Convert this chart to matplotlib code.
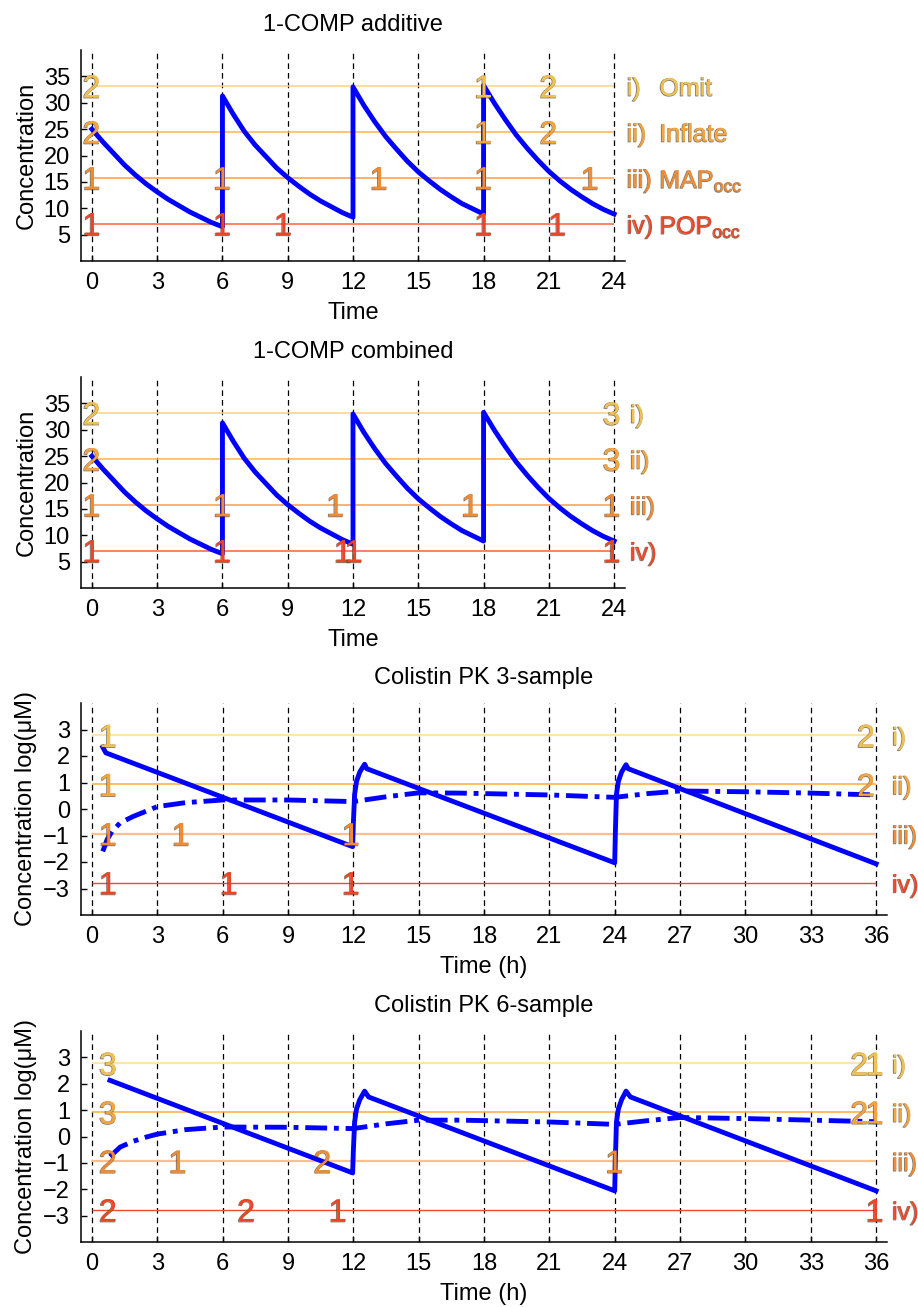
import matplotlib
matplotlib.use('Agg')
import matplotlib.pyplot as plt
import matplotlib.patheffects as pe

plt.rcParams['font.family'] = ['Liberation Sans', 'DejaVu Sans']
plt.rcParams['mathtext.fontset'] = 'custom'
plt.rcParams['mathtext.rm'] = 'Liberation Sans'
plt.rcParams['mathtext.it'] = 'Liberation Sans:italic'
plt.rcParams['mathtext.bf'] = 'Liberation Sans:bold'

# ---------------- data ----------------
# 1-compartment simulated concentration (half-hourly readings, duplicated time at doses)
comp_time = [0, 0.5, 1, 1.5, 2, 2.5, 3, 3.5, 4, 4.5, 5, 5.5, 6,
             6, 6.5, 7, 7.5, 8, 8.5, 9, 9.5, 10, 10.5, 11, 11.5, 12,
             12, 12.5, 13, 13.5, 14, 14.5, 15, 15.5, 16, 16.5, 17, 17.5, 18,
             18, 18.5, 19, 19.5, 20, 20.5, 21, 21.5, 22, 22.5, 23, 23.5, 24]
comp_conc = [25.0, 22.6, 20.4, 18.2, 16.3, 14.6, 13.1, 11.7, 10.5, 9.3, 8.3, 7.3, 6.5,
             31.3, 27.8, 24.6, 22.0, 19.8, 17.6, 15.8, 14.2, 12.7, 11.4, 10.3, 9.2, 8.3,
             33.0, 29.5, 26.4, 23.6, 21.2, 18.9, 16.9, 15.2, 13.6, 12.2, 10.9, 9.9, 8.9,
             33.3, 29.9, 26.8, 23.9, 21.4, 19.1, 17.0, 15.2, 13.6, 12.2, 10.9, 9.8, 8.9]

comp_levels = [33.2, 24.5, 15.8, 7.1]          # i) .. iv) reference lines
col_levels = [2.78, 0.93, -0.93, -2.78]

# Colistin 3-sample: solid curve
col3_time = [0.5, 0.64, 11.97, 12.0, 12.06, 12.15, 12.3, 12.52, 12.62, 24.0,
             24.03, 24.08, 24.17, 24.32, 24.52, 24.62, 36.0]
col3_conc = [2.33, 2.12, -1.42, -0.6, 0.55, 1.05, 1.4, 1.69, 1.52, -2.03,
             -0.9, 0.55, 1.05, 1.4, 1.67, 1.52, -2.07]
# Colistin 3-sample: dash-dot curve
col3_dd_time = [0.5, 0.7, 0.92, 1.3, 1.9, 2.5, 3.0, 4.3, 6.0, 9.0, 12.0,
                13.5, 15.0, 16.9, 21.0, 24.0, 25.5, 27.0, 30.0, 33.0, 36.0]
col3_dd_conc = [-1.6, -1.15, -0.85, -0.52, -0.28, -0.08, 0.09, 0.24, 0.34, 0.34,
                0.28, 0.46, 0.61, 0.6, 0.53, 0.44, 0.58, 0.68, 0.65, 0.6, 0.53]

# Colistin 6-sample
col6_time = [0.83, 11.97, 12.0, 12.06, 12.15, 12.3, 12.52, 12.7, 24.0,
             24.03, 24.08, 24.17, 24.32, 24.52, 24.72, 36.0]
col6_conc = [2.13, -1.38, -0.6, 0.55, 1.05, 1.4, 1.72, 1.5, -2.06,
             -0.9, 0.55, 1.05, 1.4, 1.72, 1.5, -2.06]
col6_dd_time = [0.83, 1.3, 1.9, 2.5, 3.0, 4.3, 6.0, 9.0, 12.0,
                13.5, 15.0, 16.9, 21.0, 24.0, 25.5, 27.0, 30.0, 33.0, 36.0]
col6_dd_conc = [-0.76, -0.4, -0.18, -0.02, 0.09, 0.26, 0.36, 0.35, 0.3,
                0.48, 0.62, 0.62, 0.55, 0.46, 0.6, 0.72, 0.68, 0.62, 0.56]

roman = ['i)', 'ii)', 'iii)', 'iv)']
method_names = ['Omit', 'Inflate', r'MAP$_{\mathrm{occ}}$', r'POP$_{\mathrm{occ}}$']

# count labels: (x position, level index, text)
labels_add = [(0, 0, '2'), (18, 0, '1'), (21, 0, '2'),
              (0, 1, '2'), (18, 1, '1'), (21, 1, '2'),
              (0, 2, '1'), (6, 2, '1'), (13.2, 2, '1'), (18, 2, '1'), (22.9, 2, '1'),
              (0, 3, '1'), (6, 3, '1'), (8.8, 3, '1'), (18, 3, '1'), (21.4, 3, '1')]
labels_comb = [(0, 0, '2'), (23.9, 0, '3'),
               (0, 1, '2'), (23.9, 1, '3'),
               (0, 2, '1'), (6, 2, '1'), (11.2, 2, '1'), (17.4, 2, '1'), (23.9, 2, '1'),
               (0, 3, '1'), (6, 3, '1'), (11.55, 3, '1'), (12.05, 3, '1'), (23.9, 3, '1')]
labels_col3 = [(0.75, 0, '1'), (35.55, 0, '2'),
               (0.75, 1, '1'), (35.55, 1, '2'),
               (0.75, 2, '1'), (4.1, 2, '1'), (11.9, 2, '1'),
               (0.75, 3, '1'), (6.3, 3, '1'), (11.9, 3, '1')]
labels_col6 = [(0.75, 0, '3'), (35.25, 0, '2'), (35.95, 0, '1'),
               (0.75, 1, '3'), (35.25, 1, '2'), (35.95, 1, '1'),
               (0.75, 2, '2'), (3.95, 2, '1'), (10.6, 2, '2'), (24.0, 2, '1'),
               (0.75, 3, '2'), (7.1, 3, '2'), (11.3, 3, '1'), (35.95, 3, '1')]

# ---------------- styles ----------------
text_cols = ['#F2C04E', '#F5A33A', '#F28A30', '#EE4424']
line_cols_comp = ['#FFD27A', '#FFB44C', '#FF9C48', '#FF5E40']
line_cols_col = ['#FFE6AC', '#FFAC38', '#FFBE8E', '#F2482E']
line_w_col = [1.6, 1.1, 1.6, 1.0]
BLUE = '#0000FF'
FS = 17
NUM_FS = 23
LEG_FS = 18

W, H = 918, 1307
fig = plt.figure(figsize=(W / 100, H / 100), dpi=100)


def make_ax(left, right, top, bottom):
    return fig.add_axes([left / W, 1 - bottom / H, (right - left) / W, (bottom - top) / H])


def outline():
    return [pe.Stroke(linewidth=0.8, foreground='#3a3020', alpha=0.55, offset=(-0.5, -0.4)),
            pe.Normal()]


def style_axes(ax, xmax, ylim, yticks, title, xlabel, ylabel):
    ax.set_xlim(-0.5, xmax + 0.5)
    ax.set_ylim(*ylim)
    xt = list(range(0, xmax + 1, 3))
    ax.set_xticks(xt)
    ax.set_yticks(yticks)
    for x in xt:
        ax.axvline(x, color='black', lw=0.9, linestyle=(0, (4.5, 3.2)), zorder=1)
    for s in ['top', 'right']:
        ax.spines[s].set_visible(False)
    for s in ['left', 'bottom']:
        ax.spines[s].set_linewidth(1.1)
    ax.tick_params(direction='in', length=4, width=1, labelsize=FS, pad=8)
    ax.set_title(title, fontsize=FS, pad=14)
    ax.set_xlabel(xlabel, fontsize=FS, labelpad=6)
    ax.set_ylabel(ylabel, fontsize=FS, labelpad=4)


def put_labels(ax, labels, levels):
    for x, k, s in labels:
        ax.text(x, levels[k], s, fontsize=NUM_FS, color=text_cols[k], ha='center',
                va='center_baseline', zorder=6, path_effects=outline())


# ---- Panel 1 ----
ax1 = make_ax(81, 625, 50, 261)
style_axes(ax1, 24, (0, 40), [5, 10, 15, 20, 25, 30, 35], '1-COMP additive', 'Time', 'Concentration')
for k, lv in enumerate(comp_levels):
    ax1.hlines(lv, 0, 24, color=line_cols_comp[k], lw=1.1, zorder=2)
ax1.plot(comp_time, comp_conc, color=BLUE, lw=3.5, zorder=4)
put_labels(ax1, labels_add, comp_levels)
for k, lv in enumerate(comp_levels):
    ax1.text(24.6, lv, roman[k], fontsize=LEG_FS, color=text_cols[k], ha='left',
             va='center_baseline', path_effects=outline(), clip_on=False)
    ax1.text(26.1, lv, method_names[k], fontsize=LEG_FS, color=text_cols[k], ha='left',
             va='center_baseline', path_effects=outline(), clip_on=False)

# ---- Panel 2 ----
ax2 = make_ax(81, 625, 377, 588)
style_axes(ax2, 24, (0, 40), [5, 10, 15, 20, 25, 30, 35], '1-COMP combined', 'Time', 'Concentration')
for k, lv in enumerate(comp_levels):
    ax2.hlines(lv, 0, 24, color=line_cols_comp[k], lw=1.1, zorder=2)
ax2.plot(comp_time, comp_conc, color=BLUE, lw=3.5, zorder=4)
put_labels(ax2, labels_comb, comp_levels)
for k, lv in enumerate(comp_levels):
    ax2.text(24.75, lv, roman[k], fontsize=LEG_FS, color=text_cols[k], ha='left',
             va='center_baseline', path_effects=outline(), clip_on=False)

# ---- Panels 3 & 4 ----
DD = (0, (4.5, 1.4, 1.0, 1.4))
for (top, bottom, title, t, c, tdd, cdd, labs) in [
        (703, 915, 'Colistin PK 3-sample', col3_time, col3_conc, col3_dd_time, col3_dd_conc, labels_col3),
        (1031, 1242, 'Colistin PK 6-sample', col6_time, col6_conc, col6_dd_time, col6_dd_conc, labels_col6)]:
    ax = make_ax(81, 887, top, bottom)
    style_axes(ax, 36, (-4, 4), [-3, -2, -1, 0, 1, 2, 3], title, 'Time (h)', 'Concentration log(\u03bcM)')
    for k, lv in enumerate(col_levels):
        ax.hlines(lv, 0, 36, color=line_cols_col[k], lw=line_w_col[k], zorder=2)
    ax.plot(t, c, color=BLUE, lw=3.5, zorder=4)
    ax.plot(tdd, cdd, color=BLUE, lw=3.5, linestyle=DD, dash_capstyle='butt', zorder=4)
    put_labels(ax, labs, col_levels)
    for k, lv in enumerate(col_levels):
        ax.text(36.75, lv, roman[k], fontsize=LEG_FS, color=text_cols[k], ha='left',
                va='center_baseline', path_effects=outline(), clip_on=False)

fig.savefig('out.png', dpi=100)
